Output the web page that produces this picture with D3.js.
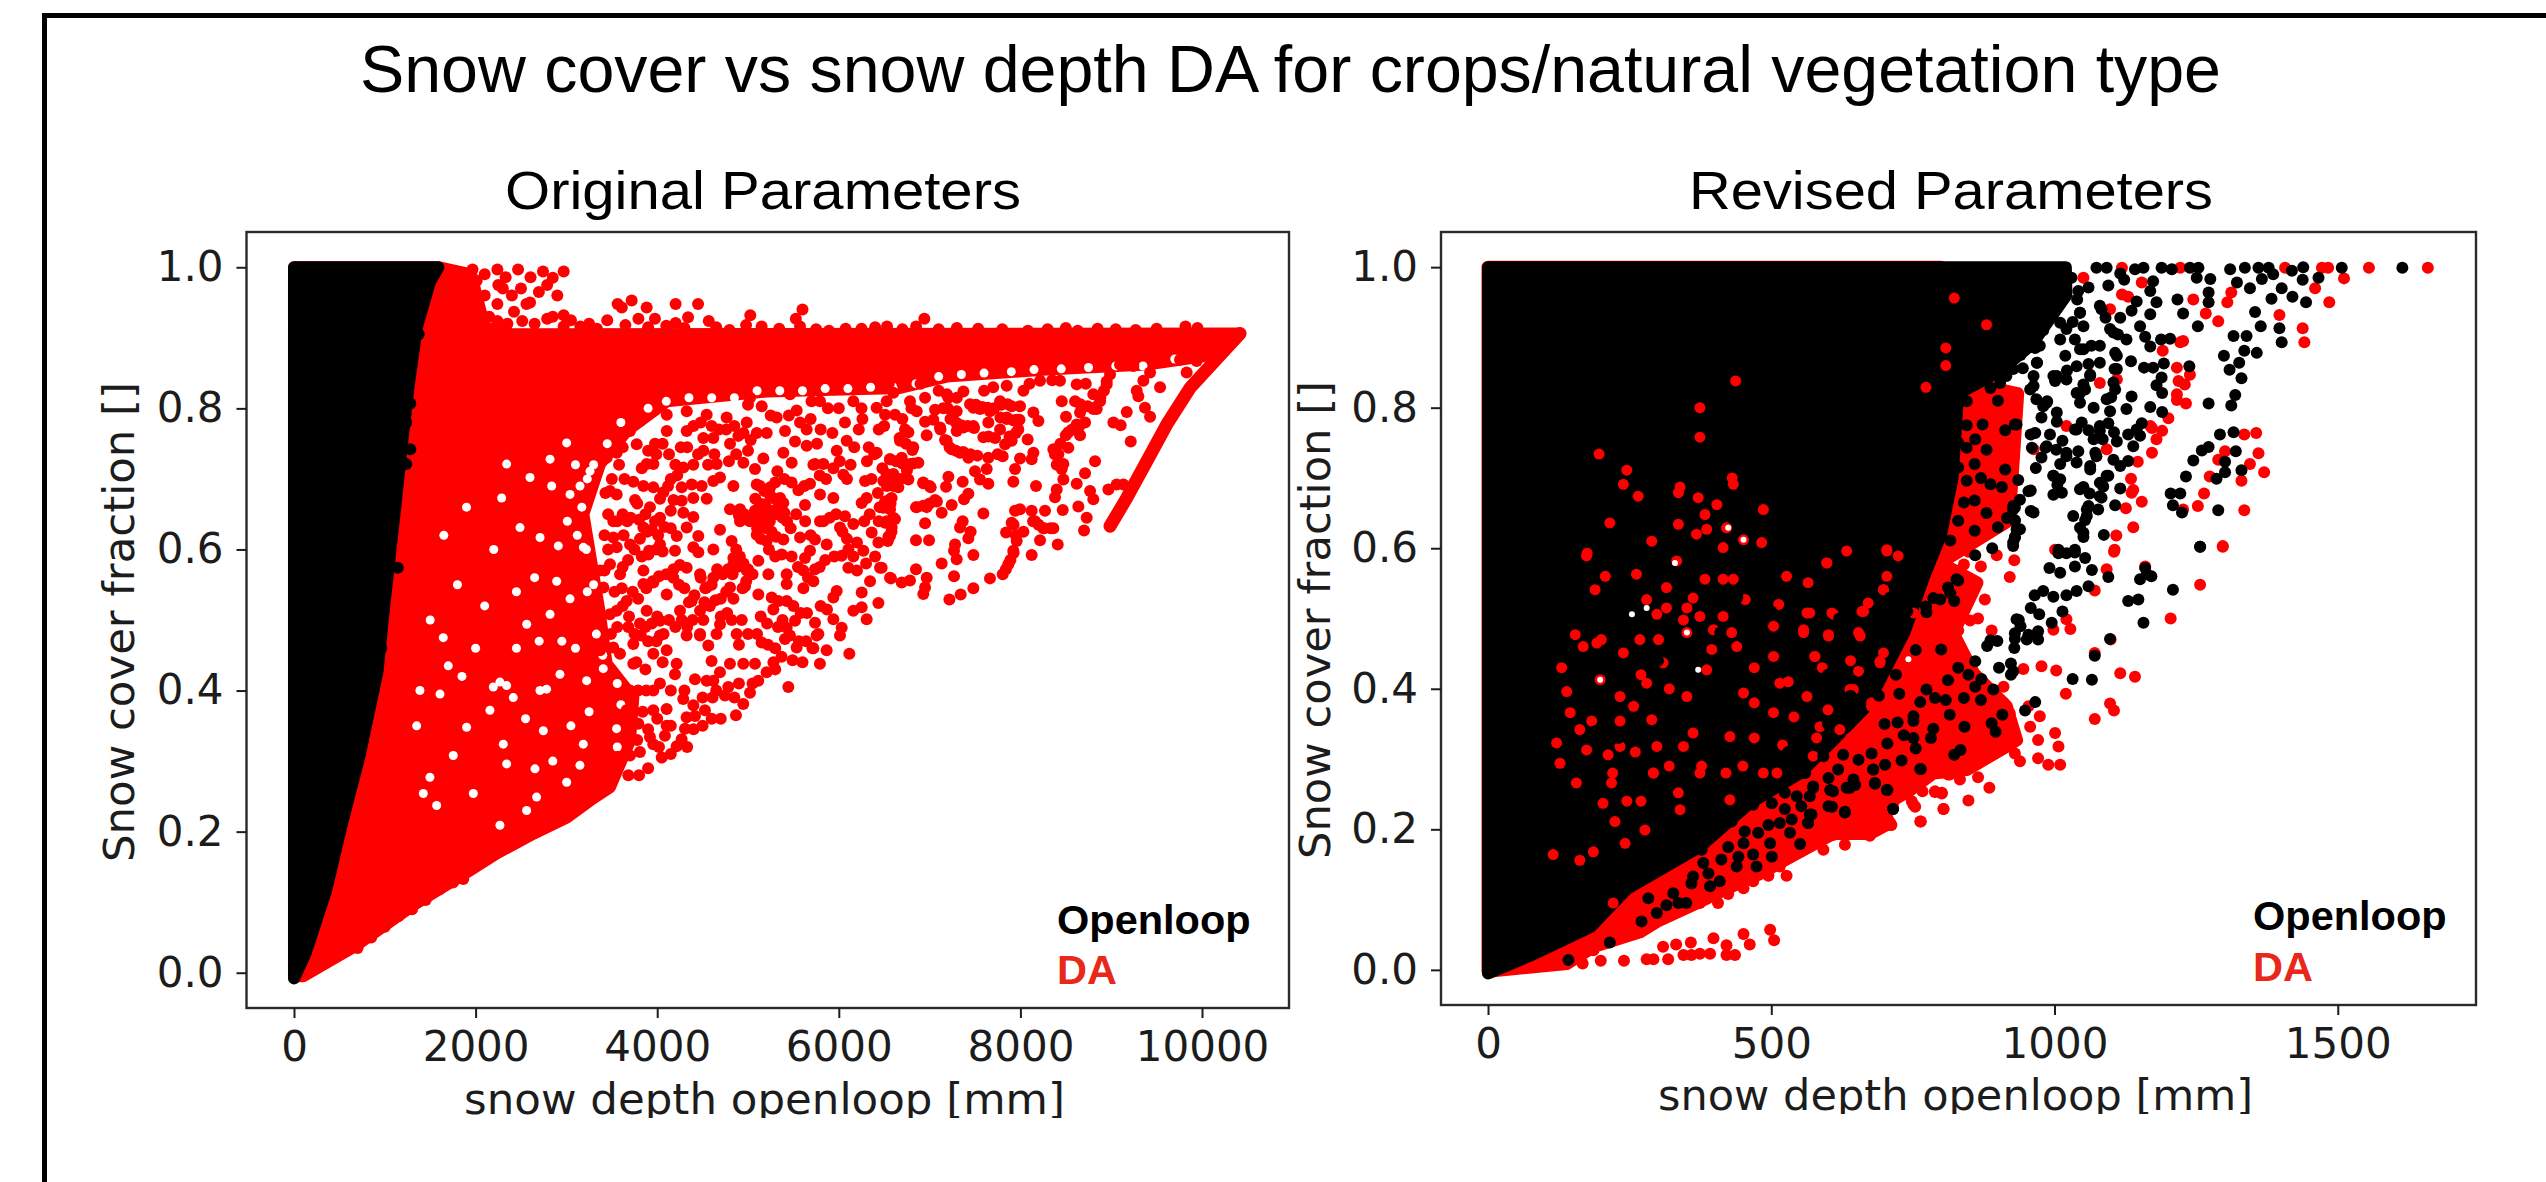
<!DOCTYPE html>
<html><head><meta charset="utf-8">
<script src="https://cdnjs.cloudflare.com/ajax/libs/d3/7.8.5/d3.min.js"></script>
<style>html,body{margin:0;padding:0;background:#fff;overflow:hidden}svg{display:block}</style>
</head><body><svg id="c" width="2546" height="1182"></svg>
<script>
const chartTitle="Snow cover vs snow depth DA for crops/natural vegetation type";
const panelTitles=["Original Parameters","Revised Parameters"];
const xLabelText="snow depth openloop [mm]";
const yLabelText="Snow cover fraction []";
const legendLabels=["Openloop","DA"];
const yTicks=[0,0.2,0.4,0.6,0.8,1.0];
const xTicksLeft=[0,2000,4000,6000,8000,10000];
const xTicksRight=[0,500,1000,1500];

// ---- Original Parameters: dense envelopes of the saturated clouds [depth mm, fraction]
const leftOpenloopCloud=[[0,-.008],[0,1],[1590,1],[1500,.98],[1355,.916],[1266,.835],[1190,.75],[1126,.672],[1000,.527],[920,.427],[720,.306],[530,.212],[355,.117],[130,.028]];
const leftDaCloud=[[0,-.005],[100,-.005],[690,.039],[1328,.097],[1938,.145],[2232,.169],[2635,.197],[3003,.220],[3259,.244],[3480,.263],[3700,.329],[3737,.39],[3443,.438],[3370,.508],[3187,.650],[3370,.721],[3664,.768],[4105,.810],[5206,.824],[6674,.829],[7188,.845],[8290,.855],[9391,.862],[10125,.876],[10419,.906],[2400,.905],[2100,.915],[1950,.99],[1600,1],[0,1]];
const leftDaStrip=[[10419,.906],[9868,.829],[9611,.777],[9391,.725],[9171,.673],[8987,.633]];
const leftCloudGaps=[[2820,.728],[3003,.751],[2342,.721],[2599,.702],[2838,.690],[3040,.678],[2287,.673],[2489,.631],[2710,.617],[2911,.605],[3260,.711],[3187,.603],[2563,.494],[2893,.555],[2820,.508],[1644,.475],[1699,.435],[1387,.400],[1608,.395],[1351,.350],[1901,.348],[1754,.308],[2342,.296],[2654,.289],[3003,.270],[1975,.254],[1497,.277],[1571,.237],[2672,.249],[3223,.414],[3553,.346],[3406,.431],[3186,.324],[3149,.294],[2268,.412],[2158,.372],[2746,.343],[2305,.324],[1424,.254],[2268,.209],[2782,.402],[2929,.423],[2562,.230],[2195,.405],[2342,.407],[2415,.390],[2709,.400],[3100,.72],[3150,.69],[3010,.64],[3120,.62],[3040,.53],[2950,.47],[3100,.46],[3230,.54],[2650,.56],[2450,.54],[2700,.47],[2450,.46],[3250,.37],[3050,.35],[2550,.36],[2850,.30],[1850,.42],[2000,.46],[2100,.52],[2200,.60],[1800,.55],[1500,.50],[1650,.62],[1900,.66],
[3560,.32],[3600,.38],[3560,.41],[3400,.45],[3330,.48],[3300,.55],[3220,.60],[3170,.66],[3230,.70],[3300,.72],[3450,.75],[3600,.78],[3900,.80],[4100,.81],[4350,.815],[4600,.815],[4850,.815],[5100,.825],[5350,.825],[5600,.825],[5850,.828],[6100,.828],[6350,.83],[6600,.83],[6850,.835],[7100,.845],[7350,.848],[7600,.85],[7900,.852],[8150,.855],[8450,.856],[8750,.858],[9050,.86],[9350,.86],[9700,.87]];
const leftOpenloop=[[1373,.905],[1327,.927],[1281,.862],[1281,.807],[1236,.721],[1281,.742],[1144,.574],[1236,.78],[1400,.95],[1480,.99],[760,.33],[960,.46]];
const leftDa=[[9538,.830],[9281,.825],[9299,.817],[9372,.801],[9428,.788],[9171,.795],[9024,.780],[9104,.776],[9215,.753],[8822,.725],[8712,.708],[8620,.693],[8767,.683],[8803,.671],[8638,.661],[8730,.645],[8701,.627],[8466,.656],[8411,.607],[8216,.613],[8124,.592],[8363,.630],[8253,.630],[8161,.640],[8271,.655],[8124,.655],[7996,.657],[7941,.655],[7904,.638],[7842,.624],[8033,.625],[7959,.612],[7922,.598],[7867,.579],[7805,.565],[7665,.559],[8172,.690],[7922,.696],[7941,.714],[7996,.729],[8143,.737],[8124,.728],[7805,.732],[7647,.730],[7629,.714],[7500,.711],[7555,.699],[7647,.693],[7364,.696],[7207,.703],[7181,.689],[6931,.694],[7012,.688],[7427,.679],[7379,.671],[7243,.663],[7060,.670],[6850,.660],[6968,.660],[7133,.652],[7592,.651],[6950,.637],[7364,.640],[7335,.631],[7452,.625],[7427,.616],[6850,.613],[6994,.613],[7280,.607],[7269,.598],[7298,.586],[7482,.592],[7133,.580],[6850,.572],[7269,.562],[7482,.545],[7342,.536],[7218,.529],[6575,.559],[6693,.553],[6784,.556],[6968,.560],[6950,.546],[6931,.537],[6472,.574],
[6564,.671],[6564,.657],[6619,.643],[6582,.631],[6546,.618],[6509,.638],[6564,.728],[6693,.730],[6784,.721],[6876,.723],[6527,.707],[6601,.707],[6564,.692],[6656,.688],[6766,.699],[6810,.741],[6674,.754],[6729,.770],[6766,.766],[6619,.791],[6509,.791],[6784,.810],[6858,.796],[6950,.815],[7060,.798],[6950,.781],[7041,.784],[7372,.824],[6601,.822],[6968,.762],
[8473,.721],[8455,.714],[8473,.699],[8400,.685],[8381,.674],[8363,.742],[8418,.735],[8528,.766],[8657,.762],[8528,.744],[8620,.777],[8712,.780],[8502,.788],[8657,.794],[8840,.799],[8877,.810],[8602,.810],[8455,.810],[8198,.782],[8143,.794],[8080,.756],[7977,.770],[7959,.784],[7849,.787],[7776,.770],[7831,.749],[7904,.754],[7721,.758],[7592,.759],[7647,.780],[7482,.775],[7372,.773],[7298,.768],[7115,.773],[7188,.754],[7243,.742],[7335,.737],[7427,.730],[7526,.733],[7996,.803],[7904,.803],[7776,.810],[7555,.799],[7665,.796],[7482,.801],[7298,.796],[7207,.815],[7849,.832],[8033,.825],[8216,.839],[8436,.839],[8620,.834],[8803,.820],[8950,.834],[8987,.848],[9428,.851],[9354,.839],[9244,.860],[9097,.862],[9758,.869],[9941,.867],[9831,.851],[8803,.799],[8969,.685],[9060,.692],[9134,.692],
[6068,.780],[5929,.765],[5536,.797],[5316,.787],[5573,.780],[5646,.770],[5151,.803],[5408,.768],[5206,.765],[5096,.765],[4986,.780],[5518,.753],[5646,.747],[5389,.737],[5481,.723],[5169,.729],[5077,.714],[5323,.711],[4949,.723],[4655,.721],[4802,.750],[4894,.761],[4508,.740],[4618,.758],[4508,.758],[4325,.768],[4105,.768],[3976,.750],[4398,.720],[4288,.716],[4839,.690],[4618,.697],[4692,.702],[4380,.692],[4270,.688],[4068,.681],[3958,.688],[3848,.690],[3737,.696],[3756,.670],[4031,.672],[3554,.678],[3708,.645],[4149,.655],[4545,.672],[4398,.673],[4270,.669],[4288,.652],[4398,.646],[4031,.645],[3976,.640],[3848,.631],[4325,.631],[4215,.619],[4453,.619],[4692,.628],[4802,.657],[4912,.657],[5096,.692],[5243,.688],[5353,.673],[5187,.664],[5077,.655],[4912,.640],[5096,.621],[5206,.612],[5389,.666],[5628,.663],[5555,.684],[5683,.693],[5793,.678],[5940,.673],[6307,.673],[6252,.666],[6491,.659],[6582,.673],[5738,.721],[5830,.721],[5977,.740],[6087,.754],[6417,.737],[6564,.728],[6289,.697],[6491,.697],[6050,.706],[6068,.647],[6160,.636],[6013,.631],[5793,.640],[5573,.617],[5738,.614],[5867,.607],[6362,.624],[6436,.610],[6564,.619],[6527,.640],[6105,.600],[6032,.591],[6270,.598],[5389,.614],[5371,.593],[5683,.598],[5628,.588],[5114,.584],[4820,.612],[4839,.588],[4618,.600],[4398,.603],[4453,.596],[4196,.598],[3903,.593],[4031,.607],[5426,.565],[5224,.565],[5738,.572],[5610,.570],[5720,.555],[5426,.551],[5610,.545],[6105,.574],[6454,.574],[6564,.560],[6344,.555],[6252,.539],[5977,.541],[5940,.532],[6436,.524],[6252,.518],[6160,.513],[6307,.501],[5334,.527],[5261,.532],[5426,.527],[5114,.536],[4967,.548],[5279,.515],[5518,.499],[5738,.496],[5940,.501],[6032,.489],[5775,.480],[5426,.489],[4931,.500],[4820,.500],[4508,.500],[4692,.494],[4472,.480],
[3664,.527],[3187,.494],[3297,.508],[3040,.555],[3113,.560],[2893,.489],[3040,.485],[3682,.490],[3480,.508],[3554,.513],[3334,.527],[3407,.546],[3591,.565],[3848,.570],[3848,.551],[3958,.553],[4178,.560],[4325,.574],[4472,.565],[4618,.560],[4839,.579],[4986,.570],[4802,.546],[4545,.546],[4380,.527],[4105,.536],[4251,.513],[4472,.513],[3884,.513],[4031,.499],[3370,.570],[3480,.579],[3517,.617],[3701,.607],[3554,.603],[3517,.640],[3444,.730],[3554,.737],[3884,.721],[3958,.721],[3774,.749],[3701,.768],[3480,.683],[3811,.782],[4105,.791],[4325,.796],[4545,.791],[4765,.787],[5022,.815],[5463,.820],[5793,.810],[6160,.810],[6417,.801],[6527,.810],
[5444,.405],[6116,.452],[5792,.438],[5866,.457],[5536,.461],[5491,.443],[5370,.448],[5150,.468],[5407,.473],[5462,.478],[5756,.478],[6013,.478],[5205,.426],[5113,.414],[5077,.438],[4948,.438],[4801,.438],[4691,.426],[4618,.414],[4544,.414],[4416,.416],[5022,.397],[4948,.381],[4867,.365],[4783,.405],[4746,.393],[4610,.390],[4599,.442],[4563,.464],[4471,.478],[4654,.480],[4875,.480],[4306,.346],[4269,.331],[4214,.321],[4085,.336],[4104,.350],[3957,.324],[3920,.334],[3810,.313],[3700,.308],[3682,.280],[3461,.270],[3792,.353],[4287,.388],[4398,.379],[4526,.372],[4416,.364],[4324,.362],[4104,.374],[4214,.438],[4196,.423],[4104,.457],[3957,.452],[3737,.438],[3957,.400],[3957,.372],[4324,.478],[4030,.478],[3737,.466],[3516,.461],[3370,.457],[3590,.452],[3700,.400],[3663,.372],[3516,.367],
[2342,.178],[2481,.190],[2085,.159],[1864,.133],[1663,.124],[2672,.202],[2801,.213],[2966,.223],[3204,.244],[3571,.306],[700,.035],[850,.05],[1000,.065],[1150,.08],[1300,.09],[1450,.103],[1600,.118],[1750,.128],
[2970,.994],[2742,.994],[2605,.986],[2788,.975],[2697,.965],[2560,.948],[2468,.997],[2240,.997],[2331,.986],[2423,.937],[2240,.948],[2240,.924],[2514,.924],[2788,.927],[2970,.932],[2970,.916],[1966,.997],[2012,.981],[3153,.916],[3564,.948],[3719,.953],[3884,.943],[3793,.927],[4203,.948],[4450,.948],[4340,.929],[4203,.921],[3610,.943],[3975,.927],[4568,.924],[5025,.932],[4979,.918],[5600,.940],[5527,.927],[5573,.916],[6942,.927],[6851,.916],[6531,.916],[9818,.916],[8083,.910],[7535,.913],[6075,.913],[5344,.913],[5892,.910],[8631,.91],[9270,.911],[3336,.913],[4796,.911],
[2100,.96],[2150,.93],[2300,.97],[2400,.96],[2350,.92],[2500,.97],[2600,.95],[2650,.92],[2850,.985],[2900,.96],[2100,.99],[2250,.975],[2850,.93],[3050,.925],[3250,.92],[3450,.925],[3650,.918],[3900,.915],[4100,.917],[4300,.914],[4650,.915],[5150,.916],[5750,.912],[6250,.913],[6400,.915],[6700,.912],[7100,.912],[7300,.914],[7800,.912],[8300,.912],[8500,.914],[8850,.913],[9050,.912],[9500,.913],[9950,.914],
[5130,.690],[5180,.683],[5240,.678],[5290,.672],[5340,.665],[5400,.652],[5430,.640],[5380,.645],[5320,.650],[5260,.655],[5200,.648],[5140,.652],[5080,.645],[5020,.640],[4960,.650],[4900,.648],[5150,.635],[5100,.630],[5200,.630],[5260,.625],[5310,.618],[5140,.615],[5240,.640],[5300,.695],[5080,.672],[5130,.665],
[4910,.590],[4870,.600],[4950,.580],[5000,.572],[5050,.565],[4980,.555],[4940,.545],[4880,.575],[4830,.565],[4780,.572],[4720,.565],[4660,.572],[4600,.550],[4530,.545],[4480,.560],[4410,.535],[4350,.525],[4300,.545],[4240,.550],[4760,.540],[4700,.530],[4640,.528],[4840,.530],[4770,.510],[4700,.505],[4580,.520],[4520,.525],
[3880,.545],[3950,.555],[4020,.562],[4100,.565],[4180,.572],[4250,.578],[3830,.590],[3910,.598],[3990,.600],[4060,.597],[3810,.615],[3890,.625],[3750,.600],[3680,.585],[3620,.575],[3810,.495],[3870,.490],[3940,.495],[4000,.505],[4070,.480],[3990,.470],[3900,.470],[3820,.478],[3750,.480],[3690,.505],[3620,.520],[3560,.490],[3490,.480],[3530,.540],[3610,.545],[3730,.540],[3790,.530],[4130,.500],[4200,.490],[4270,.500],[4330,.490],[4390,.500],
[3800,.642],[3870,.650],[3940,.628],[4010,.620],[4080,.632],[4150,.630],[3620,.650],[3640,.700],[3580,.720],[3620,.745],[3500,.700],[3430,.680],[3460,.650],[3420,.620],[3460,.600],[3420,.570],[3670,.640],[3630,.620],[3560,.640],[3780,.665],[3830,.715],[3900,.740],[3990,.735],[4060,.750],[4130,.735],[4200,.720],[4260,.745],[4330,.745],[4400,.775],[4480,.780],[4600,.775],[4680,.770],[4760,.770],[4850,.775],[4950,.765],[5030,.755],[4450,.735],[4560,.720],[4630,.735],[4790,.725],[4870,.735],[5000,.740],[4150,.700],[4220,.705],[4490,.690],[4180,.670],[4120,.690],[3920,.660],
[5720,.720],[5790,.705],[5860,.700],[5940,.715],[6010,.725],[6090,.700],[6130,.720],[6170,.745],[6220,.770],[6260,.785],[6310,.725],[6360,.700],[6440,.770],[6500,.775],[6330,.745],[6390,.735],[6480,.715],[6530,.690],[6590,.700],[6430,.680],[6340,.650],[5830,.640],[5900,.645],[5970,.650],[6040,.625],[6090,.615],[6200,.610],[6280,.640],[6440,.640],[6400,.590],[6300,.580],[6200,.570],[6160,.590],[5950,.590],[5850,.585],[5790,.575],[5660,.560],[5550,.575],[5480,.590],[5300,.590],[5230,.600],[5400,.700],[5480,.695],[5530,.650],[5470,.630],[5630,.640],[5690,.620],[5620,.690],[5760,.750],[5800,.770],[5690,.785],[5450,.790],[5250,.790],[5000,.805],[5700,.810],[5880,.800],[6000,.800],[6250,.800],
[5140,.505],[5210,.495],[5330,.490],[5380,.500],[5500,.520],[5580,.510],[5650,.510],[5800,.520],[5870,.515],[5640,.470],[5560,.470],[5710,.460],[5300,.460],[5220,.465],[5100,.480],[5000,.480],[4900,.465],[5280,.440],[5600,.44],[5720,.46],[5300,.43],[5050,.41],[4900,.41],[4850,.39],[4700,.36],[4600,.36],[4500,.35],[4650,.40],[4400,.345],[4500,.39],[4330,.32],[4150,.31],[4050,.305],[3900,.29],[3800,.28],[3780,.33],[3900,.345],[4020,.32],[4150,.35],[4300,.40],[4150,.40],[4030,.41],[3870,.43],[4060,.44],[3790,.40],[3840,.37],[3770,.44],[3880,.40],[4000,.36],
[7190,.820],[7200,.800],[7230,.785],[7290,.780],[7350,.776],[7420,.775],[7490,.772],[7120,.770],[7170,.755],[7220,.745],[7290,.740],[7370,.738],[7450,.735],[7445,.806],[7510,.805],[7580,.802],[7640,.801],[7710,.800],[7790,.805],[7860,.806],[7780,.787],[7850,.785],[7920,.783],[7990,.784],[7950,.765],[7880,.760],[8400,.720],[8380,.735],[8440,.750],[8500,.762],[8570,.770],[8650,.775],[8660,.806],[8740,.803],[8830,.802],[8880,.815],[8920,.825],[8950,.838],[6530,.705],[6600,.690],[6680,.700],[6750,.712],[6820,.722],[6700,.722],[6630,.725],[6930,.695],[7000,.690],[7925,.635],[7950,.620],[7925,.595],[7890,.585],[7840,.572],[8140,.640],[8200,.635],[8260,.630],[8330,.630],[6860,.660],[6930,.662],[7000,.665],[7080,.668],[6450,.660],[6510,.668],[6570,.665],[6600,.645],[6580,.625],[6540,.612],[6670,.758],[6740,.750],[6820,.745],[7600,.825],[7700,.830],[8100,.835],[8350,.840],[8720,.835],[7100,.825],[6900,.835],[6700,.835],[6550,.835],[6800,.800],[6700,.785],[7300,.815],[7150,.800],[7650,.760],[7750,.735]];

// ---- Revised Parameters
const rightDaCloud=[[0,-.002],[139,.009],[186,.033],[268,.054],[298,.069],[368,.095],[427,.118],[480,.137],[609,.194],[674,.194],[709,.209],[686,.228],[745,.256],[786,.28],[845,.285],[915,.318],[933,.327],[915,.375],[857,.422],[821,.479],[863,.551],[798,.579],[880,.62],[920,.64],[935,.82],[900,.826],[800,.85],[800,1],[0,1]];
const rightOpenloopCloud=[[0,-.005],[0,1],[1020,1],[1021,.96],[960,.89],[900,.85],[830,.82],[820,.70],[800,.62],[770,.56],[735,.48],[668,.375],[610,.327],[551,.28],[462,.237],[374,.175],[245,.115],[181,.061],[74,.02]];
const rightDa=[[1659,.999],[1555,.999],[1483,.999],[1472,.999],[1511,.984],[1460,.970],[1485,.950],[1438,.913],[1441,.893],[1397,.932],[1312,.964],[1305,.950],[1289,.923],[1267,.934],[1245,.954],[1407,.999],[1222,.999],[1119,.999],[1119,.961],[1130,.958],[1154,.978],[1051,.985],[1227,.895],[1222,.893],[1191,.881],[1216,.857],[1239,.847],[1219,.838],[1230,.833],[1216,.819],[1216,.811],[1232,.806],[1201,.785],[1190,.767],[1172,.771],[1180,.755],[1172,.736],[1335,.762],[1356,.764],[1360,.735],[1345,.720],[1370,.708],[1330,.696],[1274,.702],[1289,.726],[1301,.738],[1264,.678],[1253,.660],[1227,.655],[1335,.654],[1154,.666],[1126,.657],[1136,.679],[1139,.683],[1135,.699],[1147,.723],[1139,.630],[1109,.618],[1297,.603],[1106,.598],[1001,.598],[1098,.940],[1080,.835],[1110,.840],[1169,.774],[963,.741],[1021,.774],[1092,.741],
[1297,.602],[1257,.548],[1205,.500],[1105,.595],[1071,.540],[1092,.570],[1160,.574],[1099,.470],[1071,.451],[1116,.422],[1142,.417],[1003,.426],[977,.432],[945,.428],[1020,.393],[1098,.379],[1105,.369],[1071,.357],[885,.259],[848,.241],[804,.229],[763,.211],[711,.206],[705,.216],[754,.232],[748,.240],[789,.253],[801,.251],[865,.274],[833,.271],[812,.278],[1010,.292],[989,.292],[971,.301],[939,.297],[930,.308],[957,.346],[974,.361],[1001,.337],[1007,.318],[971,.327],[954,.375],[921,.365],[910,.380],[910,.403],[877,.527],[870,.574],[898,.590],[929,.583],[921,.559],[840,.577],[848,.595],[865,.500],[851,.497],[889,.483],[830,.483],[812,.482],[801,.480],[1028,.485],[998,.484],[1021,.499],
[167,.009],[199,.013],[240,.013],[280,.015],[292,.015],[309,.033],[318,.015],[332,.036],[345,.021],[358,.039],[359,.021],[374,.023],[398,.045],[392,.023],[421,.035],[421,.021],[436,.021],[451,.051],[462,.036],[498,.057],[505,.042],[262,.052],[250,.054],[177,.033],[186,.028],[406,.095],[424,.108],[451,.116],[468,.126],[495,.134],[527,.134],[374,.095],[350,.095],[592,.171],[565,.175],[524,.164],[515,.147],[630,.178],[674,.191],[609,.192],[712,.206],[764,.211],[804,.229],[751,.235],[706,.213],[689,.223],[789,.254],[801,.252],[767,.254],[739,.256],[815,.278],[780,.278],[715,.237],[662,.209],[639,.209]];
const rightDaGaps=[[704,.560],[698,.541],[598,.579],[633,.596],[704,.596],[671,.522],[660,.510],[610,.506],[657,.475],[601,.475],[577,.446],[692,.437],[654,.425],[639,.399],[677,.380],[557,.484],[568,.508],[565,.551],[374,.758],[431,.70],[880,.918],[808,.885],[808,.86],[773,.829],[245,.711],[196,.734],[339,.687],[374,.80],[437,.838],[823,.956],[175,.593],
[433,.691],[239,.691],[336,.679],[371,.672],[265,.674],[404,.662],[383,.648],[486,.655],[215,.636],[336,.634],[386,.627],[368,.620],[421,.629],[289,.610],[451,.612],[483,.608],[415,.601],[333,.582],[174,.589],[207,.560],[189,.541],[262,.563],[315,.544],[280,.527],[298,.506],[315,.515],[351,.515],[362,.529],[345,.498],[374,.503],[415,.503],[415,.556],[383,.556],[433,.556],[454,.527],[513,.520],[527,.560],[598,.579],[563,.508],[607,.508],[663,.510],[704,.598],[724,.589],[698,.541],[751,.508],[504,.489],[557,.480],[601,.477],[654,.480],[154,.477],[168,.460],[130,.430],[192,.465],[239,.451],[268,.470],[301,.470],[351,.480],[398,.484],[395,.456],[439,.460],[577,.446],[504,.446],[692,.439],[698,.451],[739,.446],[386,.427],[309,.437],[280,.408],[198,.413],[139,.396],[233,.389],[257,.375],[351,.389],[515,.408],[451,.394],[645,.399],[677,.375],[733,.403],[721,.356],[751,.389],[145,.366],[183,.354],[233,.354],[289,.356],[162,.342],[121,.323],[174,.313],[212,.306],[233,.318],[298,.318],[362,.337],[345,.318],[427,.332],[504,.366],[563,.389],[586,.346],[621,.342],[704,.342],[745,.327],[574,.304],[621,.294],[663,.294],[721,.290],[377,.290],[292,.280],[127,.294],
[218,.266],[292,.280],[374,.280],[336,.252],[245,.240],[203,.237],[339,.228],[224,.211],[277,.199],[242,.180],[186,.168],[162,.156],[115,.164],[486,.280],[427,.242],[156,.266],[221,.095],
[430,.48],[470,.43],[530,.41],[590,.43],[640,.44],[470,.38],[540,.36],[600,.37],[470,.33],[520,.32],[580,.33],[640,.33],[450,.29],[510,.28],[200,.47],[270,.42],[320,.40],[260,.31],[320,.29],[220,.28],[270,.24],[420,.28]];
const rightWhiteGaps=[[330,.579],[451,.612],[351,.480],[371,.427],[742,.442],[198,.413],[254,.506],[424,.629],[280,.515]];
const rightOpenloop=[[1614,.999],[1507,.999],[1466,.985],[1438,.982],[1444,.950],[1420,.958],[1401,.970],[1401,.893],[1397,.913],[1345,.970],[1383,.955],[1366,.983],[1386,.990],[1360,.999],[1378,.999],[1419,.995],[1439,1],[1322,.978],[1336,.999],[1310,.997],[1275,.983],[1251,.985],[1239,.999],[1254,.999],[1272,.964],[1272,.950],[1217,.954],[1227,.934],[1253,.916],[1354,.936],[1364,.916],[1339,.902],[1316,.902],[1357,.878],[1335,.881],[1299,.874],[1326,.864],[1309,.854],[1330,.842],[1319,.818],[1312,.803],[1272,.806],[1238,.859],[1193,.863],[1174,.857],[1158,.857],[1189,.843],[1180,.832],[1190,.821],[1169,.801],[1190,.794],[1204,.898],[1188,.897],[1169,.887],[1160,.901],[1135,.866],[1136,.816],[1127,.798],[1154,.778],[1139,.745],[1292,.762],[1316,.765],[1272,.744],[1260,.739],[1245,.725],[1320,.738],[1301,.723],[1301,.708],[1330,.711],[1286,.699],[1232,.702],[1205,.678],[1222,.678],[1209,.661],[1225,.651],[1289,.654],[1257,.602],[1107,.661],[1087,.619],[1116,.685],[1207,.997],[1189,.999],[1157,.999],[1142,.997],[1174,.980],[1169,.966],[1180,.950],[1169,.933],[1151,.916],[1123,.982],[1116,.991],[1095,.974],[1060,.971],[1042,.966],[1040,.954],[1145,.951],[1136,.938],[1092,.999],[1074,.999],
[992,.933],[1010,.921],[1045,.935],[1051,.916],[1083,.940],[1116,.928],[1104,.907],[1010,.897],[974,.888],[1045,.883],[1080,.888],[1019,.874],[969,.864],[1080,.864],[1110,.874],[1110,.855],[1063,.847],[998,.845],[1021,.840],[963,.831],[986,.807],[1045,.821],[1045,.807],[1069,.800],[1092,.812],[1107,.826],[977,.786],[1004,.780],[933,.776],[913,.768],[966,.764],[992,.762],[1014,.753],[960,.743],[984,.743],[1042,.738],[1021,.731],[977,.729],[967,.714],[913,.712],[998,.703],[1010,.698],[936,.697],[954,.681],[998,.676],[907,.687],[939,.669],[927,.660],[916,.643],[963,.651],[939,.627],[927,.608],[1039,.769],[1048,.779],[1080,.774],[1069,.755],[1072,.736],[1039,.722],[1063,.717],[1104,.726],[1116,.717],[1130,.724],[1110,.752],[1145,.769],[1095,.703],[1080,.693],[1051,.687],[1083,.672],[1060,.660],[1077,.655],[1033,.646],[1057,.646],[1045,.629],[1051,.616],[1007,.598],[1036,.598],
[1107,.878],[1106,.855],[1104,.836],[1100,.815],[1098,.795],[1095,.778],[1085,.755],[1074,.731],[1063,.712],[1036,.769],[1060,.768],[1080,.767],[1105,.765],[1130,.762],[1151,.760],[963,.907],[966,.885],[969,.864],[963,.845],[957,.826],[968,.812],[980,.802],[1004,.793],[1004,.845],[1022,.853],[1039,.859],[1060,.862],[1045,.935],[1032,.922],[1021,.912],[1036,.897],[1051,.883],[1065,.888],[1080,.945],[1090,.928],[1098,.912],[1112,.904],[1127,.897],[986,.745],[1003,.740],[1021,.736],[1010,.720],[998,.703],[1005,.690],[1013,.679],[927,.655],[930,.640],[933,.627],[930,.615],[927,.603],[1045,.684],[1062,.678],[1080,.674],[1086,.688],[1092,.703],[1057,.655],[1054,.640],[1051,.622],[1039,.821],[1051,.833],[1063,.845],[1054,.826],[904,.883],[922,.883],[939,.883],[920,.865],[904,.835],[915,.845],[927,.855],[1000,.94],[980,.91],[940,.875],[900,.865],[850,.84],[1030,.985],
[859,.856],[887,.828],[944,.856],[1001,.838],[845,.809],[873,.776],[930,.776],[987,.809],[958,.762],[845,.743],[859,.720],[845,.696],[887,.691],[958,.682],[859,.668],[930,.658],[958,.653],[830,.639],[930,.639],[930,.616],[816,.611],[859,.625],[830,.554],[816,.536],[773,.517],[937,.498],[930,.479],[887,.469],[870,.87],[900,.81],[845,.775],[860,.755],[830,.75],[880,.74],[830,.715],[870,.70],[840,.665],[880,.65],[900,.63],[860,.59],[890,.60],
[1257,.602],[1209,.541],[1157,.494],[1098,.471],[1071,.447],[1066,.413],[1032,.414],[966,.381],[948,.369],[1163,.563],[1151,.556],[1160,.572],[1171,.560],[1148,.527],[1130,.525],[1095,.559],[1066,.569],[1054,.586],[1036,.574],[1036,.594],[1021,.593],[1007,.593],[1010,.565],[991,.572],[1060,.546],[1039,.539],[1021,.533],[998,.531],[980,.539],[965,.533],[958,.515],[973,.506],[1014,.510],[995,.494],[971,.482],[933,.499],[940,.489],[954,.477],[971,.470],[951,.470],[930,.471],[929,.458],[899,.468],[881,.461],[923,.436],[927,.425],[923,.420],[902,.430],[860,.439],[830,.430],[848,.420],[871,.414],[860,.403],[892,.399],[870,.384],[840,.387],[808,.384],[789,.387],[774,.399],[763,.381],[726,.393],[812,.412],[815,.363],[800,.456],[755,.455],[774,.509],[823,.525],[827,.556],[812,.544],[798,.527],[786,.529],[908,.363],[889,.351],[896,.339],[841,.346],[786,.343],[782,.330],[751,.361],[751,.354],[723,.352],[734,.334],[751,.330],[755,.315],[834,.313],[823,.306],[763,.286],[730,.298],[705,.322],[680,.285],[683,.265],[705,.256],[715,.229],[630,.224],[607,.232],[568,.221],[565,.209],[648,.263],[633,.259],[604,.256],[574,.259],[601,.273],[618,.285],[560,.280],[654,.299],[627,.306],[592,.304],[677,.308],[701,.292],
[215,.039],[142,.014],[271,.069],[298,.081],[315,.092],[336,.095],[350,.095],[283,.102],[327,.109],[359,.123],[392,.119],[409,.126],[362,.133],[389,.137],[380,.152],[377,.171],[412,.157],[439,.147],[442,.161],[474,.147],[424,.175],[451,.180],[468,.164],[501,.161],[498,.180],[551,.179],[533,.195],[495,.206],[515,.209],[477,.195],[453,.197],[430,.211],[536,.214],[565,.209],[571,.221],[524,.229],[553,.233],[524,.252],[545,.247],[568,.247],[501,.237],[468,.235],[601,.233],[630,.225],[609,.254],[639,.259],[683,.266],[704,.256],[715,.229],[680,.285],[764,.286],[645,.271],[574,.261],[559,.280],[533,.278],
[700,.35],[690,.39],[720,.42],[700,.47],[740,.51],[710,.53],[750,.57],[720,.61],[760,.60],[780,.64],[640,.39],[600,.42],[660,.44],[620,.50],[650,.53],[590,.53],[560,.46],[530,.45],[500,.51],[470,.47],[440,.53],[410,.48],[380,.52],[440,.41],[480,.40],[410,.37],[380,.40],[340,.43],[300,.44],[250,.40],[210,.43],[170,.40],[220,.50],[260,.53],[310,.49],[340,.55],[300,.58],[250,.60],[210,.58],[180,.51],[150,.44],[230,.33],[190,.34],[280,.34],[330,.36],[400,.33],[460,.31],[530,.31],[600,.35],[650,.36],[340,.29],[270,.29],[170,.29],[400,.27],[460,.26]];

const BLACK="#000",RED="#ff0000",LEG_RED="#e8281a",INK="#1c1c1c";
const DOT=6;
const svg=d3.select("#c");
svg.append("rect").attr("width",2546).attr("height",1182).attr("fill","#fff");

// outer frame
const frame=svg.append("g").attr("stroke","#000").attr("stroke-width",5).attr("fill","none");
frame.append("line").attr("x1",42).attr("x2",2546).attr("y1",15.5).attr("y2",15.5);
frame.append("line").attr("x1",44.5).attr("x2",44.5).attr("y1",13).attr("y2",1182);

svg.append("text").attr("x",1290.5).attr("y",92).attr("text-anchor","middle")
  .attr("font-family","'Liberation Sans',Arial,sans-serif").attr("font-size",66)
  .attr("textLength",1861).attr("lengthAdjust","spacingAndGlyphs").text(chartTitle);

function panel(o){
  const x=d3.scaleLinear().domain(o.xd).range([o.l,o.r]);
  const y=d3.scaleLinear().domain([-.05,1.05]).range([o.b,o.t]);
  const g=svg.append("g");
  const line=d3.line().x(d=>x(d[0])).y(d=>y(d[1]));
  const poly=(d,c,w)=>g.append("path").attr("d",line(d)+"Z").attr("fill",c).attr("stroke",c).attr("stroke-width",w).attr("stroke-linejoin","round");
  const chain=(d,c,w)=>g.append("path").attr("d",line(d)).attr("fill","none").attr("stroke",c).attr("stroke-width",w).attr("stroke-linecap","round").attr("stroke-linejoin","round");
  const dots=(d,c,r)=>g.append("g").attr("fill",c).selectAll("circle").data(d).join("circle").attr("cx",p=>x(p[0])).attr("cy",p=>y(p[1])).attr("r",r);
  poly(o.daCloud,RED,o.daStroke);
  if(o.cloudGaps) dots(o.cloudGaps,"#fff",4.5);
  if(o.strip) chain(o.strip,RED,13);
  dots(o.da,RED,DOT);
  poly(o.olCloud,BLACK,12);
  if(o.daGaps) dots(o.daGaps,RED,5.5);
  if(o.whiteGaps) dots(o.whiteGaps,"#fff",3);
  dots(o.ol,BLACK,DOT);

  g.append("rect").attr("x",o.l).attr("y",o.t).attr("width",o.r-o.l).attr("height",o.b-o.t)
    .attr("fill","none").attr("stroke","#2a2a2a").attr("stroke-width",2.4);

  const xa=d3.axisBottom(x).tickValues(o.xt).tickFormat(d3.format("d")).tickSize(10).tickPadding(13);
  const ya=d3.axisLeft(y).tickValues(yTicks).tickFormat(d3.format(".1f")).tickSize(10).tickPadding(13);
  const gx=g.append("g").attr("transform",`translate(0,${o.b})`).call(xa);
  const gy=g.append("g").attr("transform",`translate(${o.l},0)`).call(ya);
  [gx,gy].forEach(a=>{a.select(".domain").remove();
    a.selectAll("line").attr("stroke",INK).attr("stroke-width",2);
    a.selectAll("text").attr("fill",INK).attr("font-family","'DejaVu Sans',sans-serif").attr("font-size",42);});

  g.append("text").attr("x",o.titleX).attr("y",209).attr("text-anchor","middle")
   .attr("font-family","'Liberation Sans',Arial,sans-serif").attr("font-size",54)
   .attr("textLength",o.titleW).attr("lengthAdjust","spacingAndGlyphs").text(o.title);

  const cid="clip"+o.id;
  svg.append("clipPath").attr("id",cid).append("rect").attr("x",o.xlX-320).attr("y",o.xlY-50).attr("width",640).attr("height",54);
  g.append("text").attr("x",o.xlX).attr("y",o.xlY).attr("text-anchor","middle").attr("clip-path",`url(#${cid})`)
   .attr("fill",INK).attr("font-family","'DejaVu Sans',sans-serif").attr("font-size",43)
   .attr("textLength",o.xlW).attr("lengthAdjust","spacingAndGlyphs").text(xLabelText);

  g.append("text").attr("transform",`translate(${o.ylX},${o.ylY}) rotate(-90)`).attr("text-anchor","middle")
   .attr("fill",INK).attr("font-family","'DejaVu Sans',sans-serif").attr("font-size",43)
   .attr("textLength",o.ylW).attr("lengthAdjust","spacingAndGlyphs").text(yLabelText);

  legendLabels.forEach((t,i)=>{
    g.append("text").attr("x",o.legX).attr("y",o.legY[i]).attr("font-family","'Liberation Sans',Arial,sans-serif")
     .attr("font-weight",700).attr("font-size",41.5).attr("fill",i?LEG_RED:"#000").text(t);
  });
}

panel({id:"L",title:panelTitles[0],xd:[-523,10958],l:246.5,r:1289,t:232,b:1008,xt:xTicksLeft,
  da:leftDa,ol:leftOpenloop,daCloud:leftDaCloud,olCloud:leftOpenloopCloud,strip:leftDaStrip,cloudGaps:leftCloudGaps,daStroke:12,
  titleX:763,titleW:516,xlX:764.5,xlY:1114,xlW:601,ylX:134,ylY:622,ylW:480,legX:1057,legY:[934,984]});
panel({id:"R",title:panelTitles[1],xd:[-83,1744],l:1441,r:2476,t:232,b:1005,xt:xTicksRight,
  da:rightDa,ol:rightOpenloop,daCloud:rightDaCloud,olCloud:rightOpenloopCloud,daGaps:rightDaGaps,whiteGaps:rightWhiteGaps,daStroke:13,
  titleX:1951,titleW:524,xlX:1955.5,xlY:1110,xlW:595,ylX:1330,ylY:620,ylW:478,legX:2253,legY:[930,981]});
</script></body></html>
